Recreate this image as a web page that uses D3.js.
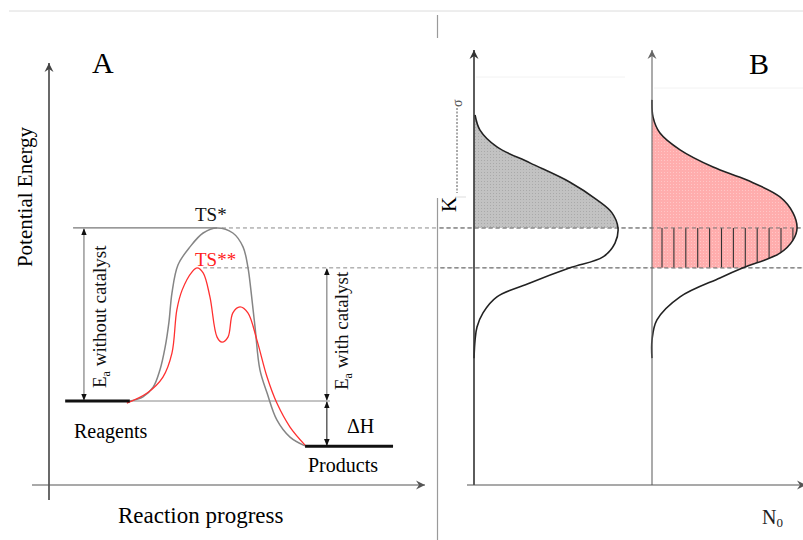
<!DOCTYPE html>
<html>
<head>
<meta charset="utf-8">
<script src="https://cdn.jsdelivr.net/npm/d3@7"></script>
<style>
  body { margin: 0; background: #fff; }
  text { font-family: "Liberation Serif", "DejaVu Serif", serif; }
</style>
</head>
<body>
<div id="chart"></div>
<script>
// Panel A: [reaction progress, potential energy]
const uncatalysed = [
  [21.5, 20], [25, 21], [27.7, 23.3], [29.5, 27.4], [30.9, 32.9], [31.9, 38.8],
  [32.7, 45.7], [34.3, 52.4], [37.5, 56.7], [41, 60], [44.7, 61.2], [48.9, 60],
  [51.6, 56.7], [52.9, 51.9], [53.7, 46.4], [54.8, 37.6], [56.1, 27.4], [58, 21.9],
  [60.6, 15.5], [64.1, 11.4], [68.1, 9.3]
];
const catalysed = [
  [20.7, 19.5], [26.1, 21.9], [30.3, 25.7], [32.7, 31.4], [34, 41.7], [35.4, 46.4],
  [38, 50.7], [39.4, 51.7], [41, 50.5], [42.8, 44.8], [44.7, 35.2], [46, 34],
  [47.6, 35.2], [48.9, 41], [50.8, 42.4], [52.9, 41], [55.3, 34.5], [58, 25.7],
  [60.6, 19.5], [64.1, 13.8], [68.1, 9.5]
];
const levelNames = ["Reagents", "Products", "TS*", "TS**"];
const levelEnergy = [20, 9.2, 61.2, 51.7];
const reagentSpan = [4.3, 21.5];
const productSpan = [68.1, 91.5];
const eaNoCatX = 9.3;
const eaCatX = 73.9;

// Panel B: [number of molecules, energy]
const distWithout = [
  [0.7, 88.1], [4, 84.5], [15.3, 80.5], [37.3, 76.7], [64, 72.1], [82, 67.9],
  [92, 64.8], [96, 61.2], [94, 57.6], [86, 54.3], [64, 51.7], [37.3, 48.1],
  [15.3, 44.8], [6, 41], [2, 37.6], [0.7, 34.5], [0, 30.2]
];
const distWith = [
  [0, 91.7], [0.7, 87.6], [5.3, 83.8], [18.7, 79.8], [40.7, 75.7], [63.3, 72.6],
  [85.3, 68.6], [94, 64.8], [96.7, 61.2], [94, 58.3], [85.3, 55.2], [60.7, 51.7],
  [45.3, 49.3], [18.7, 44.8], [3.3, 39.3], [0, 34.5], [0, 30.2]
];

const W = 803, H = 540;
const svg = d3.select("#chart").append("svg")
  .attr("width", W).attr("height", H);

const x = d3.scaleLinear().domain([0, 100]).range([49, 425]);
const y = d3.scaleLinear().domain([0, 100]).range([485, 65]);
const nLeft = d3.scaleLinear().domain([0, 100]).range([474, 624]);
const nRight = d3.scaleLinear().domain([0, 100]).range([652, 802]);

const defs = svg.append("defs");

// dotted textures
function texture(id, base, dot) {
  const p = defs.append("pattern").attr("id", id)
    .attr("width", 3).attr("height", 3).attr("patternUnits", "userSpaceOnUse");
  p.append("rect").attr("width", 3).attr("height", 3).attr("fill", base);
  p.append("rect").attr("x", 1).attr("y", 1).attr("width", 1).attr("height", 1).attr("fill", dot);
}
texture("greyDots", "#c2c2c2", "#a9a9a9");
texture("pinkDots", "#ffadad", "#ffc6c6");

defs.append("marker").attr("id", "tip")
  .attr("viewBox", "0 0 10 10").attr("refX", 9).attr("refY", 5)
  .attr("markerWidth", 7).attr("markerHeight", 7).attr("orient", "auto-start-reverse")
  .attr("markerUnits", "userSpaceOnUse")
  .append("path").attr("d", "M0,1 L10,5 L0,9 Z").attr("fill", "#111");

// frame bits
svg.append("line").attr("x1", 9).attr("x2", W).attr("y1", 11).attr("y2", 11)
  .attr("stroke", "#dcdcdc");
svg.append("line").attr("x1", 437.5).attr("x2", 437.5).attr("y1", 15).attr("y2", 38)
  .attr("stroke", "#9a9a9a").attr("stroke-width", 1.2);
svg.append("line").attr("x1", 437.5).attr("x2", 437.5).attr("y1", 198).attr("y2", H)
  .attr("stroke", "#9a9a9a").attr("stroke-width", 1.2);

function axisArrow(g, x1, y1, x2, y2, color, width) {
  g.append("line").attr("x1", x1).attr("y1", y1).attr("x2", x2).attr("y2", y2)
    .attr("stroke", color).attr("stroke-width", width);
  const ang = Math.atan2(y2 - y1, x2 - x1) * 180 / Math.PI;
  g.append("path").attr("d", "M0,0 L-9,-4.5 L-6,0 L-9,4.5 Z")
    .attr("transform", `translate(${x2},${y2}) rotate(${ang})`)
    .attr("fill", color);
}

// ---------- Panel A ----------
const a = svg.append("g");
axisArrow(a, x(0), 500, x(0), 63, "#444", 1.6);
axisArrow(a, 32, y(0), 425, y(0), "#555", 1.2);

// TS* reference line (solid to the peak, dashed beyond)
a.append("line").attr("x1", x(6.4)).attr("x2", x(44.7))
  .attr("y1", y(levelEnergy[2])).attr("y2", y(levelEnergy[2]))
  .attr("stroke", "#777").attr("stroke-width", 1.2);
svg.append("line").attr("x1", x(46)).attr("x2", W)
  .attr("y1", y(levelEnergy[2])).attr("y2", y(levelEnergy[2]))
  .attr("stroke", "#8a8a8a").attr("stroke-dasharray", "4,3");
svg.append("line").attr("x1", x(41)).attr("x2", W)
  .attr("y1", y(levelEnergy[3])).attr("y2", y(levelEnergy[3]))
  .attr("stroke", "#8a8a8a").attr("stroke-dasharray", "4,3");

// reagent reference line
a.append("line").attr("x1", x(reagentSpan[1])).attr("x2", x(74.7))
  .attr("y1", y(levelEnergy[0])).attr("y2", y(levelEnergy[0]))
  .attr("stroke", "#888").attr("stroke-width", 1);

const lineA = d3.line().x(d => x(d[0])).y(d => y(d[1])).curve(d3.curveCatmullRom.alpha(0.5));
a.append("path").datum(uncatalysed).attr("d", lineA)
  .attr("fill", "none").attr("stroke", "#858585").attr("stroke-width", 1.5);
a.append("path").datum(catalysed).attr("d", lineA)
  .attr("fill", "none").attr("stroke", "#ff3030").attr("stroke-width", 1.3);

// energy levels
a.append("line").attr("x1", x(reagentSpan[0])).attr("x2", x(reagentSpan[1]))
  .attr("y1", y(levelEnergy[0])).attr("y2", y(levelEnergy[0]))
  .attr("stroke", "#111").attr("stroke-width", 3);
a.append("line").attr("x1", x(productSpan[0])).attr("x2", x(productSpan[1]))
  .attr("y1", y(levelEnergy[1])).attr("y2", y(levelEnergy[1]))
  .attr("stroke", "#111").attr("stroke-width", 3);

// Ea and ΔH arrows
function dblArrow(px, e1, e2, color) {
  a.append("line").attr("x1", x(px)).attr("x2", x(px))
    .attr("y1", y(e1) + 1).attr("y2", y(e2) - 1)
    .attr("stroke", color).attr("stroke-width", 1)
    .attr("marker-start", "url(#tip)").attr("marker-end", "url(#tip)");
}
dblArrow(eaNoCatX, levelEnergy[2], levelEnergy[0], "#666");
dblArrow(eaCatX, levelEnergy[3], levelEnergy[0], "#666");
dblArrow(eaCatX, levelEnergy[0], levelEnergy[1], "#111");

// labels
a.append("text").attr("x", 92).attr("y", 73).attr("font-size", 30).text("A");
a.append("text").attr("transform", "translate(32,197) rotate(-90)")
  .attr("text-anchor", "middle").attr("font-size", 21).text("Potential Energy");
a.append("text").attr("x", 118).attr("y", 523).attr("font-size", 23).text("Reaction progress");
a.append("text").attr("x", 74).attr("y", 438).attr("font-size", 20).text(levelNames[0]);
a.append("text").attr("x", 308).attr("y", 472).attr("font-size", 20).text(levelNames[1]);
a.append("text").attr("x", 347).attr("y", 433).attr("font-size", 20).text("ΔH");
a.append("text").attr("x", 195).attr("y", 221).attr("font-size", 19).attr("fill", "#111").text(levelNames[2]);
a.append("text").attr("x", 195).attr("y", 266).attr("font-size", 19).attr("fill", "#ff2020").text(levelNames[3]);

function eaLabel(tx, ty, rest) {
  const t = a.append("text").attr("transform", `translate(${tx},${ty}) rotate(-90)`)
    .attr("font-size", 19).attr("fill", "#111");
  t.append("tspan").text("E");
  t.append("tspan").attr("font-size", 12).attr("dy", 4).text("a");
  t.append("tspan").attr("dy", -4).text(rest);
}
eaLabel(106, 388, " without catalyst");
eaLabel(348, 390, " with catalyst");

// ---------- Panel B ----------
const b = svg.append("g");

// faint top rules
b.append("line").attr("x1", 476).attr("x2", 625).attr("y1", 77).attr("y2", 77).attr("stroke", "#f2f2f2");
b.append("line").attr("x1", 654).attr("x2", W).attr("y1", 88).attr("y2", 88).attr("stroke", "#f2f2f2");

const areaL = d3.area().y(d => y(d[1])).x0(nLeft(0)).x1(d => nLeft(d[0])).curve(d3.curveCatmullRom.alpha(0.5));
const lineL = d3.line().y(d => y(d[1])).x(d => nLeft(d[0])).curve(d3.curveCatmullRom.alpha(0.5));
const areaR = d3.area().y(d => y(d[1])).x0(nRight(0)).x1(d => nRight(d[0])).curve(d3.curveCatmullRom.alpha(0.5));
const lineR = d3.line().y(d => y(d[1])).x(d => nRight(d[0])).curve(d3.curveCatmullRom.alpha(0.5));

defs.append("clipPath").attr("id", "aboveTS1")
  .append("rect").attr("x", 0).attr("y", 0).attr("width", W).attr("height", y(levelEnergy[2]));
defs.append("clipPath").attr("id", "aboveTS2")
  .append("rect").attr("x", 0).attr("y", 0).attr("width", W).attr("height", y(levelEnergy[3]));
defs.append("clipPath").attr("id", "band")
  .append("rect").attr("x", 0).attr("y", y(levelEnergy[2])).attr("width", W)
  .attr("height", y(levelEnergy[3]) - y(levelEnergy[2]));
defs.append("clipPath").attr("id", "insideR")
  .append("path").datum(distWith).attr("d", areaR);

b.append("path").datum(distWithout).attr("d", areaL)
  .attr("fill", "url(#greyDots)").attr("clip-path", "url(#aboveTS1)");
b.append("path").datum(distWith).attr("d", areaR)
  .attr("fill", "url(#pinkDots)").attr("clip-path", "url(#aboveTS2)");

// hatching for the extra molecules that can react with catalyst
const hatch = b.append("g").attr("clip-path", "url(#band)")
  .append("g").attr("clip-path", "url(#insideR)");
hatch.selectAll("line").data(d3.range(nRight(0) + 10, nRight(100), 11.9)).join("line")
  .attr("x1", d => d).attr("x2", d => d)
  .attr("y1", y(levelEnergy[2])).attr("y2", y(levelEnergy[3]))
  .attr("stroke", "#333").attr("stroke-width", 1.1);

// re-draw the dashed lines over the fills
[levelEnergy[2], levelEnergy[3]].forEach(e => {
  b.append("line").attr("x1", 440).attr("x2", W).attr("y1", y(e)).attr("y2", y(e))
    .attr("stroke", "#777").attr("stroke-dasharray", "4,3");
});

b.append("path").datum(distWithout).attr("d", lineL)
  .attr("fill", "none").attr("stroke", "#222").attr("stroke-width", 1.6);
b.append("path").datum(distWith).attr("d", lineR)
  .attr("fill", "none").attr("stroke", "#222").attr("stroke-width", 1.6);

axisArrow(b, nLeft(0), y(0), nLeft(0), 50, "#333", 1.6);
axisArrow(b, nRight(0), y(0), nRight(0), 50, "#666", 1.1);
axisArrow(b, 467, y(0), 806, y(0), "#555", 1.2);

b.append("text").attr("x", 749).attr("y", 74).attr("font-size", 30).text("B");
const n0 = b.append("text").attr("x", 762).attr("y", 524).attr("font-size", 20).attr("fill", "#222");
n0.append("tspan").text("N");
n0.append("tspan").attr("font-size", 13).attr("dy", 3).text("0");

// cropped energy label on the left of panel B
b.append("text").attr("transform", "translate(456,212) rotate(-90)")
  .attr("font-size", 21).text("K");
b.append("line").attr("x1", 457).attr("x2", 457).attr("y1", 108).attr("y2", 193)
  .attr("stroke", "#555").attr("stroke-dasharray", "2,1.5");
b.append("line").attr("x1", 455).attr("x2", 466).attr("y1", 197).attr("y2", 197)
  .attr("stroke", "#ddd");
b.append("text").attr("transform", "translate(462,107) rotate(-90)")
  .attr("font-size", 14).attr("fill", "#555").text("σ");
</script>
</body>
</html>
